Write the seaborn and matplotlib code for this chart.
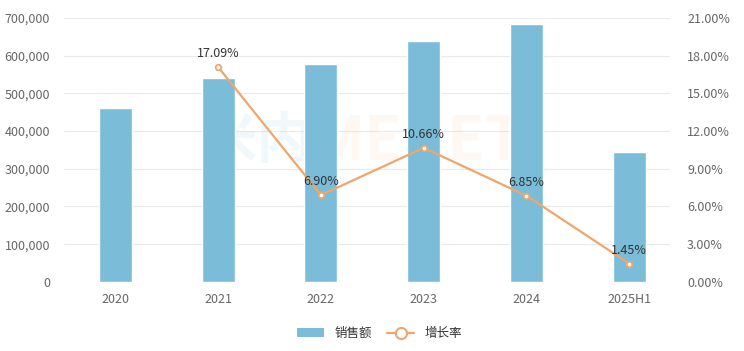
import matplotlib.pyplot as plt
import matplotlib.ticker as mticker
from matplotlib.lines import Line2D
from matplotlib.patches import Patch
import seaborn as sns

years = ['2020', '2021', '2022', '2023', '2024', '2025H1']
sales = [462000, 541000, 578500, 640000, 684000, 345000]
growth_years = ['2021', '2022', '2023', '2024', '2025H1']
growth = [17.09, 6.90, 10.66, 6.85, 1.45]

BAR_COLOR = '#7BBCD9'
LINE_COLOR = '#EFA66A'
GRID_COLOR = '#EAEAEA'
TICK_COLOR = '#666666'

sns.set_style('white')
plt.rcParams['font.family'] = ['Noto Sans CJK SC', 'DejaVu Sans']

fig = plt.figure(figsize=(7.44, 3.51), dpi=100)
ax = fig.add_axes([0.086, 0.197, 0.815, 0.752])

sns.barplot(x=years, y=sales, order=years, color=BAR_COLOR, width=0.32,
            saturation=1, ax=ax, zorder=2)
ax.set_ylim(0, 700000)
ax.yaxis.set_major_locator(mticker.MultipleLocator(100000))
ax.yaxis.set_major_formatter(mticker.FuncFormatter(lambda v, p: f'{int(v):,}'))
ax.grid(axis='y', color=GRID_COLOR, linewidth=0.8, zorder=0)
ax.set_axisbelow(True)
for s in ax.spines.values():
    s.set_visible(False)
ax.tick_params(axis='both', length=0, labelsize=9, colors=TICK_COLOR, pad=8)
ax.tick_params(axis='y', pad=10)

# faint watermark
ax.text(0.41, 0.53, '米内', transform=ax.transAxes, fontsize=40, fontweight='bold',
        color='#7BBCD9', alpha=0.10, ha='right', va='center', zorder=1)
ax.text(0.41, 0.53, 'MENET', transform=ax.transAxes, fontsize=44, fontweight='bold',
        color='#F5A15A', alpha=0.08, ha='left', va='center', zorder=1)

ax2 = ax.twinx()
sns.pointplot(x=growth_years, y=growth, order=years, color=LINE_COLOR, ax=ax2,
              markers='o', markersize=4, markerfacecolor='white',
              markeredgewidth=1.3, linewidth=1.6, zorder=3)
ax2.set_ylim(0, 21)
ax2.yaxis.set_major_locator(mticker.MultipleLocator(3))
ax2.yaxis.set_major_formatter(mticker.FuncFormatter(lambda v, p: f'{v:.2f}%'))
for s in ax2.spines.values():
    s.set_visible(False)
ax2.tick_params(axis='y', length=0, labelsize=9, colors=TICK_COLOR, pad=12)
ax2.set_xlim(-0.5, 5.4)
ax.set_xlim(-0.5, 5.4)
ax.set_xlabel('')
ax2.set_xlabel('')

for yr, g in zip(growth_years, growth):
    ax2.annotate(f'{g:.2f}%', (years.index(yr), g), xytext=(0, 5),
                 textcoords='offset points', ha='center', va='bottom',
                 fontsize=9, color='#333333')

handles = [Patch(facecolor=BAR_COLOR, edgecolor='none'),
           Line2D([0], [0], color=LINE_COLOR, linewidth=1.6, marker='o',
                  markersize=8, markerfacecolor='white', markeredgewidth=1.5)]
fig.legend(handles, ['销售额', '增长率'], loc='center', bbox_to_anchor=(0.51, 0.05),
           ncol=2, frameon=False, fontsize=9, handlelength=2.2, columnspacing=1.2,
           labelcolor='#333333')

fig.savefig('out.png', dpi=100)
